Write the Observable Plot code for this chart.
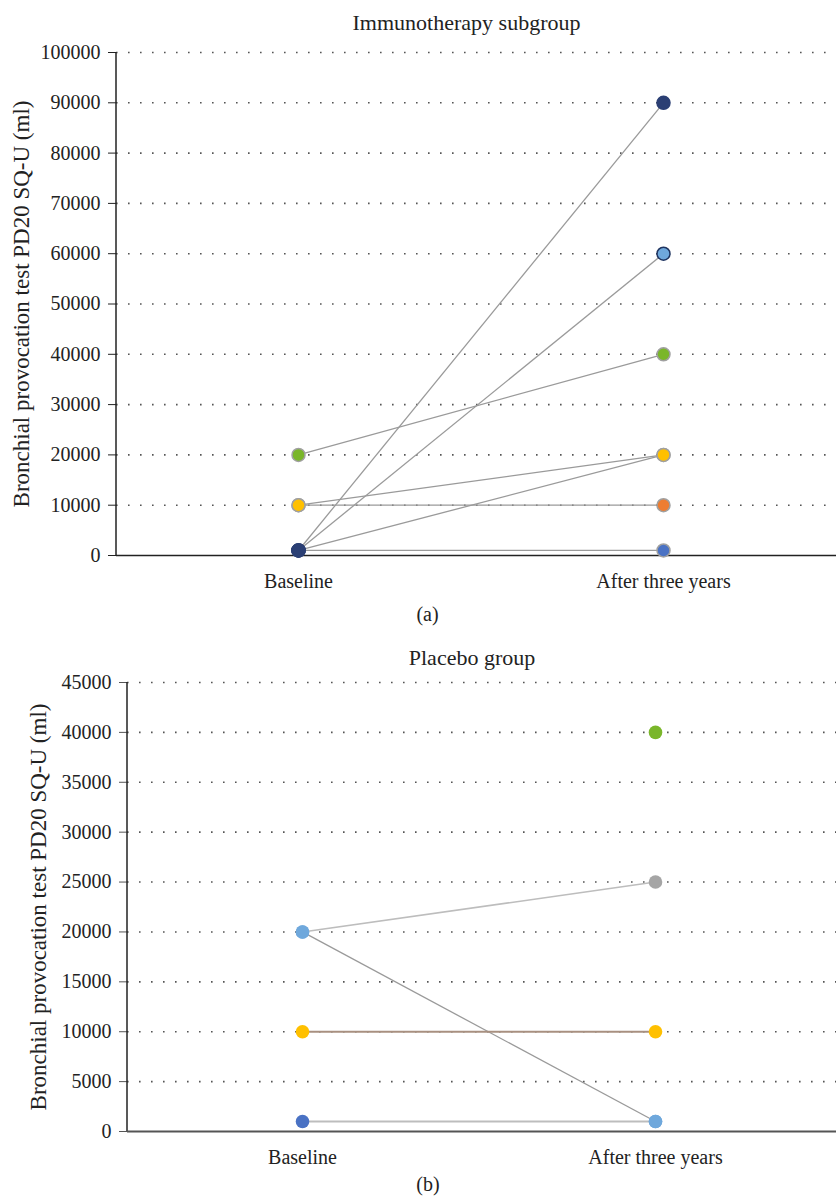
<!DOCTYPE html>
<html><head><meta charset="utf-8">
<script src="https://cdn.jsdelivr.net/npm/d3@7"></script>
<script src="https://cdn.jsdelivr.net/npm/@observablehq/plot@0.6"></script>
<style>body{margin:0;background:#fff} svg{display:block}</style>
</head><body><div id="a"></div><div id="b"></div>
<script>
const categories = ["Baseline", "After three years"];
const yTitle = "Bronchial provocation test PD20 SQ-U (ml)";

// (a) Immunotherapy subgroup
const immunoTitle = "Immunotherapy subgroup";
const immunoBaseline = [20000, 10000, 10000, 1000, 1000, 1000, 1000];
const immunoAfter    = [40000, 20000, 10000, 90000, 60000, 20000, 1000];
const immunoBaseColors  = ["#7ab62a", "#ffc000", "#ffc000", "#2b3f74", "#2b3f74", "#2b3f74", "#2b3f74"];
const immunoAfterColors = ["#7ab62a", "#ffc000", "#ed7d31", "#2b3f74", "#6fa8dc", "#ffc000", "#4a72c4"];
const immunoAfterStroke = ["#a0a0a0", "#a0a0a0", "#a0a0a0", "#2b3f74", "#1f3460", "#a0a0a0", "#a0a0a0"];
const immunoBaseStroke  = ["#a0a0a0", "#a0a0a0", "#a0a0a0", "#2b3f74", "#2b3f74", "#2b3f74", "#2b3f74"];
const immunoTicks = [0, 10000, 20000, 30000, 40000, 50000, 60000, 70000, 80000, 90000, 100000];

// (b) Placebo group
const placeboTitle = "Placebo group";
const placeboBaseline = [20000, 20000, 10000, 1000];
const placeboAfter    = [25000, 1000, 10000, 1000];
const placeboLineColors = ["#bdbdbd", "#9a9a9a", "#a89080", "#bdbdbd"];
const placeboLineWidths = [1.5, 1.3, 2, 2];
const placeboBaseColors = ["#6fa8dc", "#6fa8dc", "#ffc000", "#4a72c4"];
const placeboAfterColors = ["#a5a5a5", "#6fa8dc", "#ffc000", "#6fa8dc"];
const placeboExtraAfter = [40000];
const placeboExtraColors = ["#7ab62a"];
const placeboTicks = [0, 5000, 10000, 15000, 20000, 25000, 30000, 35000, 40000, 45000];

const font = "'Liberation Serif', 'DejaVu Serif', serif";

function leftLine(color, w) {
  return (index, scales, values, dim) => {
    const g = document.createElementNS("http://www.w3.org/2000/svg", "line");
    g.setAttribute("x1", dim.marginLeft); g.setAttribute("x2", dim.marginLeft);
    g.setAttribute("y1", dim.marginTop); g.setAttribute("y2", dim.height - dim.marginBottom);
    g.setAttribute("stroke", color); g.setAttribute("stroke-width", w);
    return g;
  };
}

function panel({title, caption, ticks, ymax, base, after, lineColors, lineWidths, baseColors, afterColors, baseStroke, afterStroke, extra, extraColors,
                height, marginTop, marginBottom, marginLeft, xpos, axisColor, axisWidth, labelOffset, titleDy, capDy, capDx, r}) {
  const links = base.map((b, i) => ({y1: b, y2: after[i], c: lineColors[i], w: lineWidths ? lineWidths[i] : 1.3}));
  const basePts = base.map((v, i) => ({x: categories[0], y: v, f: baseColors[i], s: baseStroke ? baseStroke[i] : "none"}));
  const afterPts = after.map((v, i) => ({x: categories[1], y: v, f: afterColors[i], s: afterStroke ? afterStroke[i] : "none"}));
  (extra || []).forEach((v, i) => afterPts.unshift({x: categories[1], y: v, f: extraColors[i], s: "none"}));
  return Plot.plot({
    width: 836, height, marginTop, marginBottom, marginLeft, marginRight: 0,
    style: {fontFamily: font, fontSize: "20px", color: "#222", background: "#fff"},
    x: {type: "point", domain: categories, range: xpos, padding: 0},
    y: {domain: [0, ymax], range: [height - marginBottom, marginTop]},
    marks: [
      Plot.gridY(ticks.filter(t => t > 0), {stroke: "#555", strokeOpacity: 1, strokeWidth: 1.6, strokeDasharray: "1.6,10.4"}),
      Plot.axisY({ticks, tickFormat: d => String(d), tickSize: 8, tickPadding: 8, stroke: axisColor, label: null, fontSize: 20}),
      Plot.axisY({ticks: [], tickSize: 0, label: yTitle, labelAnchor: "center", labelArrow: "none", labelOffset, fontSize: 23}),
      Plot.axisX({tickSize: 0, tickPadding: 18, label: null, fontSize: 20}),
      leftLine("#222", 1.5),
      Plot.ruleY([0], {stroke: axisColor, strokeWidth: axisWidth}),
      Plot.link(links, {x1: () => categories[0], x2: () => categories[1], y1: "y1", y2: "y2", stroke: "c", strokeWidth: "w"}),
      Plot.dot(basePts, {x: "x", y: "y", fill: "f", stroke: "s", strokeWidth: 1.5, r}),
      Plot.dot(afterPts, {x: "x", y: "y", fill: "f", stroke: "s", strokeWidth: 1.5, r}),
      Plot.text([title], {frameAnchor: "top", dy: titleDy, dx: -10, fontSize: 22, fill: "#222"}),
      Plot.text([caption], {frameAnchor: "bottom", dy: capDy, dx: capDx, fontSize: 20, fill: "#222"})
    ]
  });
}

document.getElementById("a").append(panel({
  title: immunoTitle, caption: "(a)", ticks: immunoTicks, ymax: 100000,
  base: immunoBaseline, after: immunoAfter,
  lineColors: immunoBaseline.map(() => "#9a9a9a"),
  baseColors: immunoBaseColors, afterColors: immunoAfterColors,
  baseStroke: immunoBaseStroke, afterStroke: immunoAfterStroke,
  height: 640, marginTop: 52, marginBottom: 85, marginLeft: 116,
  xpos: [298, 663], axisColor: "#222", axisWidth: 1.6, labelOffset: 104,
  titleDy: -38, capDy: 65, capDx: -49, r: 6.5
}));

document.getElementById("b").append(panel({
  title: placeboTitle, caption: "(b)", ticks: placeboTicks, ymax: 45000,
  base: placeboBaseline, after: placeboAfter,
  lineColors: placeboLineColors, lineWidths: placeboLineWidths,
  baseColors: placeboBaseColors, afterColors: placeboAfterColors,
  extra: placeboExtraAfter, extraColors: placeboExtraColors,
  height: 558, marginTop: 42, marginBottom: 67, marginLeft: 127,
  xpos: [302, 655], axisColor: "#555", axisWidth: 2.2, labelOffset: 98,
  titleDy: -33, capDy: 59, capDx: -54, r: 6.8
}));
</script></body></html>
